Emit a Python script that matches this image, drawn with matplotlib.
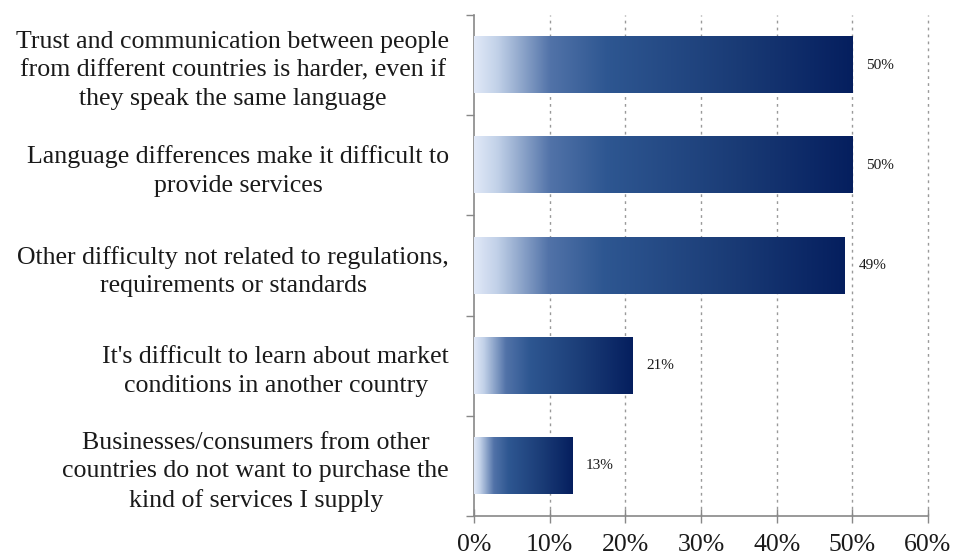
import matplotlib
matplotlib.use("Agg")
import matplotlib.pyplot as plt
import numpy as np
from matplotlib.colors import LinearSegmentedColormap

categories = [
    "Trust and communication between people\nfrom different countries is harder, even if\nthey speak the same language",
    "Language differences make it difficult to\nprovide services",
    "Other difficulty not related to regulations,\nrequirements or standards",
    "It's difficult to learn about market\nconditions in another country",
    "Businesses/consumers from other\ncountries do not want to purchase the\nkind of services I supply",
]
values = [50, 50, 49, 21, 13]
x_ticks = [0, 10, 20, 30, 40, 50, 60]
x_tick_labels = ["0%", "10%", "20%", "30%", "40%", "50%", "60%"]

plt.rcParams["font.family"] = ["Liberation Serif", "DejaVu Serif"]

bar_cmap = LinearSegmentedColormap.from_list(
    "bar_fade",
    [
        (0.00, (0.88, 0.91, 0.97)),
        (0.06, (0.76, 0.82, 0.91)),
        (0.20, (0.32, 0.45, 0.66)),
        (0.35, (0.18, 0.34, 0.57)),
        (0.70, (0.10, 0.23, 0.46)),
        (1.00, (0.02, 0.12, 0.37)),
    ],
)

fig = plt.figure(figsize=(9.54, 5.56), dpi=100)
ax = fig.add_axes([0.4969, 0.0719, 0.4758, 0.9011])

n = len(categories)
ypos = np.arange(n)
bar_h = 0.56
grad = np.linspace(0, 1, 256).reshape(1, -1)

for y, v in zip(ypos, values):
    ax.imshow(grad, cmap=bar_cmap, aspect="auto", interpolation="bilinear",
              extent=[0, v, y + bar_h / 2, y - bar_h / 2], zorder=3)
    ax.text(v + 1.8, y, f"{v}%", va="center", ha="left", fontsize=11,
            color="#1a1a1a", zorder=4)

ax.set_xlim(0, 60)
ax.set_ylim(n - 0.5, -0.5)

ax.set_xticks(x_ticks)
ax.set_xticklabels(x_tick_labels, fontsize=18.5, color="#1a1a1a")
ax.set_yticks(ypos)
ax.set_yticklabels(categories, fontsize=18.6, multialignment="center",
                   linespacing=1.38, color="#1a1a1a")
ax.tick_params(axis="y", length=0, pad=18)
ax.set_yticks(np.arange(n + 1) - 0.5, minor=True)
ax.tick_params(axis="y", which="minor", length=6, color="#888888", width=1)
ax.tick_params(axis="x", length=10, color="#888888", width=1, pad=8,
               direction="inout")

for x in x_ticks[1:]:
    ax.axvline(x, color="#999999", linestyle=(0, (2, 3)), linewidth=1.0,
               zorder=1, clip_on=False)

for side in ("top", "right"):
    ax.spines[side].set_visible(False)
for side in ("left", "bottom"):
    ax.spines[side].set_color("#888888")
    ax.spines[side].set_linewidth(1.2)

fig.savefig("out.png", dpi=100)
